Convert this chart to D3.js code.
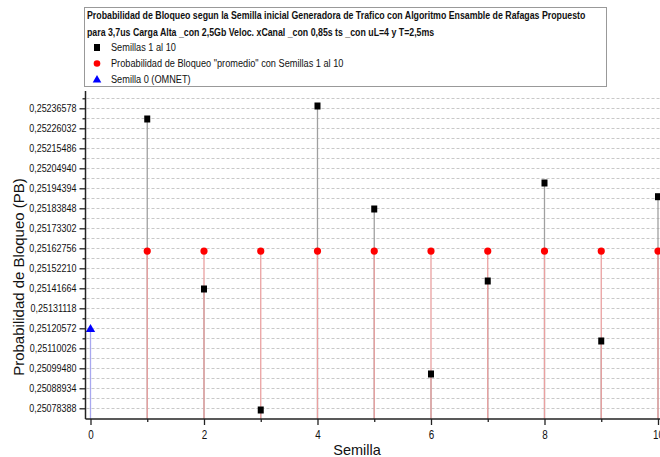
<!DOCTYPE html>
<html><head><meta charset="utf-8">
<script src="https://cdn.jsdelivr.net/npm/d3@7"></script>
<style>body{margin:0;background:#fff} svg{display:block}</style>
</head><body><svg id="c" width="660" height="457"></svg>
<script>
// ---- data ----
const seeds = [1, 2, 3, 4, 5, 6, 7, 8, 9, 10];
const pbSeeds = [0.2523094, 0.2514130, 0.2507749, 0.2523779, 0.2518348, 0.2509648, 0.2514551, 0.2519719, 0.2511388, 0.2518996];
const pbAverage = [0.251613, 0.251613, 0.251613, 0.251613, 0.251613, 0.251613, 0.251613, 0.251613, 0.251613, 0.251613];
const seedZero = [0];
const pbSeedZero = [0.2512057];
const yTickLabels = ["0,25078388","0,25088934","0,25099480","0,25110026","0,25120572","0,25131118","0,25141664","0,25152210","0,25162756","0,25173302","0,25183848","0,25194394","0,25204940","0,25215486","0,25226032","0,25236578"];
const xTickValues = [0, 2, 4, 6, 8, 10];
const xMinorValues = [1, 3, 5, 7, 9];
const legendTitle = ["Probabilidad de Bloqueo segun la Semilla inicial Generadora de Trafico con Algoritmo Ensamble de Rafagas Propuesto",
                     "para 3,7us Carga Alta _con 2,5Gb Veloc. xCanal _con 0,85s ts _con uL=4 y T=2,5ms"];
const legendLabels = ["Semillas 1 al 10", "Probabilidad de Bloqueo \"promedio\" con Semillas 1 al 10", "Semilla 0 (OMNET)"];
const xTitle = "Semilla";
const yTitle = "Probabilidad de Bloqueo (PB)";

// ---- layout ----
const FONT = "'Liberation Sans',Arial,sans-serif";
const svg = d3.select("#c");
const plot = {left: 85.5, right: 664, top: 91, bottom: 419};

// horizontally condense a text around its own x anchor
function condense(sel, sx) {
  sel.each(function() {
    const t = d3.select(this);
    const X = +(t.attr("x") || 0);
    t.attr("transform", `translate(${X},0) scale(${sx},1) translate(${-X},0)`);
  });
}

const yMajor = yTickLabels.map(s => +s.replace(",", "."));
const step = yMajor[1] - yMajor[0];
const yMinor = yMajor.map(v => v + step / 2);
const yTopVal = yMajor[yMajor.length - 1] + 0.865 * step;
const yBotVal = yMajor[0] - 0.535 * step;

const x = d3.scaleLinear().domain([-0.088, 10.1]).range([plot.left, plot.left + 10.188 * 56.75]);
const y = d3.scaleLinear().domain([yBotVal, yTopVal]).range([plot.bottom, plot.top]);

svg.append("defs").append("clipPath").attr("id", "pc")
  .append("rect").attr("x", plot.left).attr("y", plot.top - 5).attr("width", 660 - plot.left).attr("height", plot.bottom - plot.top + 5);

// gridlines
const gridVals = yMajor.concat(yMinor).filter(v => v < yTopVal);
svg.append("g").selectAll("line").data(gridVals).join("line")
  .attr("x1", plot.left + 1).attr("x2", 660)
  .attr("y1", d => Math.round(y(d)) + 0.5).attr("y2", d => Math.round(y(d)) + 0.5)
  .attr("stroke", "#c8c8c8").attr("stroke-width", 1).attr("stroke-dasharray", "3,2");

const g = svg.append("g").attr("clip-path", "url(#pc)");

// drop lines
g.selectAll("line.ds").data(seeds).join("line").attr("class", "ds")
  .attr("x1", d => x(d)).attr("x2", d => x(d))
  .attr("y1", (d, i) => y(pbSeeds[i])).attr("y2", plot.bottom)
  .attr("stroke", "#a0a0a0").attr("stroke-width", 1.3);
g.selectAll("line.da").data(seeds).join("line").attr("class", "da")
  .attr("x1", d => x(d)).attr("x2", d => x(d))
  .attr("y1", (d, i) => y(pbAverage[i])).attr("y2", plot.bottom)
  .attr("stroke", "#eaa0a0").attr("stroke-width", 1.3);
g.selectAll("line.dz").data(seedZero).join("line").attr("class", "dz")
  .attr("x1", d => x(d)).attr("x2", d => x(d))
  .attr("y1", (d, i) => y(pbSeedZero[i])).attr("y2", plot.bottom)
  .attr("stroke", "#a8a8f0").attr("stroke-width", 1.3);

// markers
g.selectAll("circle.avg").data(seeds).join("circle").attr("class", "avg")
  .attr("cx", d => x(d)).attr("cy", (d, i) => y(pbAverage[i])).attr("r", 3.6).attr("fill", "#ff0000");
g.selectAll("rect.sd").data(seeds).join("rect").attr("class", "sd")
  .attr("x", d => x(d) - 3).attr("y", (d, i) => y(pbSeeds[i]) - 3.5).attr("width", 6).attr("height", 7).attr("fill", "#000");
const tri = d3.symbol().type(d3.symbolTriangle).size(38);
g.selectAll("path.z").data(seedZero).join("path").attr("class", "z")
  .attr("transform", (d, i) => `translate(${x(d)},${y(pbSeedZero[i]) + 1})`).attr("d", tri).attr("fill", "#0000ff");

// axes
const axisColor = "#222";
svg.append("line").attr("x1", plot.left).attr("x2", plot.left).attr("y1", plot.top).attr("y2", plot.bottom)
  .attr("stroke", axisColor).attr("stroke-width", 1.5);
svg.append("line").attr("x1", plot.left).attr("x2", 660).attr("y1", plot.bottom).attr("y2", plot.bottom)
  .attr("stroke", axisColor).attr("stroke-width", 1.5);

const yAx = svg.append("g").attr("transform", `translate(${plot.left},0)`)
  .call(d3.axisLeft(y).tickValues(yMajor).tickSize(6).tickPadding(3).tickFormat((d, i) => yTickLabels[i]));
yAx.select(".domain").remove();
yAx.selectAll("text").attr("font-family", FONT).attr("font-size", 11.5).attr("fill", "#111").call(condense, 0.78);
yAx.selectAll("line").attr("stroke", axisColor).attr("stroke-width", 1.3);
const yAxm = svg.append("g").attr("transform", `translate(${plot.left},0)`)
  .call(d3.axisLeft(y).tickValues(yMinor.filter(v => v < yTopVal)).tickSize(3).tickFormat(""));
yAxm.select(".domain").remove();
yAxm.selectAll("line").attr("stroke", axisColor).attr("stroke-width", 1.3);

const xAx = svg.append("g").attr("transform", `translate(0,${plot.bottom})`)
  .call(d3.axisBottom(x).tickValues(xTickValues).tickSize(6).tickPadding(5).tickFormat(d3.format("d")));
xAx.select(".domain").remove();
xAx.selectAll("text").attr("font-family", FONT).attr("font-size", 12).attr("fill", "#111").call(condense, 0.82);
xAx.selectAll("line").attr("stroke", axisColor).attr("stroke-width", 1.3);
const xAxm = svg.append("g").attr("transform", `translate(0,${plot.bottom})`)
  .call(d3.axisBottom(x).tickValues(xMinorValues).tickSize(3).tickFormat(""));
xAxm.select(".domain").remove();
xAxm.selectAll("line").attr("stroke", axisColor).attr("stroke-width", 1.3);

// titles
svg.append("text").attr("x", 357).attr("y", 455).attr("text-anchor", "middle")
  .attr("font-family", FONT).attr("font-size", 14.5).attr("fill", "#111").text(xTitle);
svg.append("text").attr("transform", "translate(24,277) rotate(-90)").attr("text-anchor", "middle")
  .attr("font-family", FONT).attr("font-size", 15).attr("fill", "#111").text(yTitle);

// legend
const lg = svg.append("g");
lg.append("rect").attr("x", 84.5).attr("y", 7.5).attr("width", 522).attr("height", 79)
  .attr("fill", "#fff").attr("stroke", "#999").attr("stroke-width", 1);
lg.selectAll("text.t").data(legendTitle).join("text").attr("class", "t")
  .attr("x", 87).attr("y", (d, i) => 19 + i * 17)
  .attr("font-family", FONT).attr("font-size", 11.5).attr("font-weight", "bold").attr("fill", "#111").text(d => d)
  .call(condense, 0.765);
lg.selectAll("text.e").data(legendLabels).join("text").attr("class", "e")
  .attr("x", 111).attr("y", (d, i) => 51.5 + i * 16)
  .attr("font-family", FONT).attr("font-size", 11.5).attr("fill", "#111").text(d => d)
  .call(condense, 0.8);
lg.append("rect").attr("x", 94).attr("y", 44).attr("width", 6).attr("height", 7).attr("fill", "#000");
lg.append("circle").attr("cx", 97).attr("cy", 63.5).attr("r", 3.3).attr("fill", "#ff0000");
lg.append("path").attr("transform", "translate(97,80)").attr("d", d3.symbol().type(d3.symbolTriangle).size(32)).attr("fill", "#0000ff");
</script></body></html>
